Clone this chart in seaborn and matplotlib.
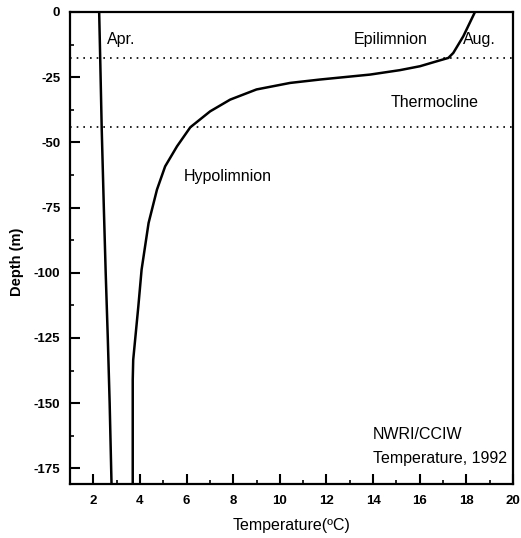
import matplotlib
matplotlib.use("Agg")
import matplotlib.pyplot as plt
import seaborn as sns
import numpy as np
import pandas as pd
from matplotlib.ticker import MultipleLocator

# Data
apr_temp = [2.25, 2.30, 2.36, 2.45, 2.53, 2.62, 2.70, 2.78]
apr_depth = [0, -20, -45, -75, -100, -125, -150, -181]

aug_temp = [18.37, 17.87, 17.44, 17.23, 16.73, 16.01, 15.15, 13.87, 11.72, 10.44,
            9.0, 7.87, 7.01, 6.16, 5.59, 5.08, 4.73, 4.37, 4.07, 3.93, 3.71, 3.69, 3.69]
aug_depth = [0, -9.3, -15.7, -17.6, -18.9, -20.8, -22.3, -24.0, -25.9, -27.2,
             -29.7, -33.6, -38.1, -44.2, -51.5, -59.2, -68.1, -80.9, -98.8, -112.9,
             -133.4, -141, -181]

layer_bounds = [-17.7, -44.1]
x_ticks = [2, 4, 6, 8, 10, 12, 14, 16, 18, 20]
y_ticks = [0, -25, -50, -75, -100, -125, -150, -175]

sns.set_theme(style="white")
plt.rcParams['font.family'] = ['Liberation Sans', 'DejaVu Sans']
plt.rcParams['axes.unicode_minus'] = False
plt.rcParams['text.color'] = 'black'
plt.rcParams['axes.labelcolor'] = 'black'
plt.rcParams['xtick.color'] = 'black'
plt.rcParams['ytick.color'] = 'black'

fig = plt.figure(figsize=(5.21, 5.38), dpi=100)
ax = fig.add_axes([0.1344, 0.1004, 0.8502, 0.8773])

df_apr = pd.DataFrame({"T": apr_temp, "D": apr_depth})
df_aug = pd.DataFrame({"T": aug_temp, "D": aug_depth})
sns.lineplot(data=df_apr, x="T", y="D", sort=False, estimator=None, color="black", lw=1.8, ax=ax)
sns.lineplot(data=df_aug, x="T", y="D", sort=False, estimator=None, color="black", lw=1.8, ax=ax)

for b in layer_bounds:
    ax.axhline(b, color="black", lw=1.2, ls=(0, (1, 3)))

ax.set_xlim(1, 20)
ax.set_ylim(-181, 0)
ax.set_xticks(x_ticks)
ax.set_yticks(y_ticks)
ax.xaxis.set_minor_locator(MultipleLocator(1))
ax.yaxis.set_minor_locator(MultipleLocator(12.5))
ax.tick_params(axis="both", which="major", direction="in", length=7, width=1.5,
               labelsize=9.5, bottom=True, left=True, top=False, right=False)
ax.tick_params(axis="x", which="major", pad=8)
ax.tick_params(axis="y", which="major", pad=7)
ax.tick_params(axis="both", which="minor", direction="in", length=3, width=1.2,
               bottom=True, left=True, top=False, right=False)
for lab in ax.get_xticklabels() + ax.get_yticklabels():
    lab.set_fontweight("bold")

for s in ax.spines.values():
    s.set_visible(True)
    s.set_color("black")
    s.set_linewidth(1.6)

ax.set_xlabel("Temperature(ºC)", fontsize=11.5, labelpad=8)
ax.set_ylabel("Depth (m)", fontsize=10.5, fontweight="bold")
ax.yaxis.set_label_coords(-0.105, 0.47)

tk = dict(fontsize=11.5, color="black")
ax.text(2.59, -10.6, "Apr.", va="center", ha="left", **tk)
ax.text(14.77, -10.6, "Epilimnion", va="center", ha="center", **tk)
ax.text(17.86, -10.6, "Aug.", va="center", ha="left", **tk)
ax.text(16.64, -34.7, "Thermocline", va="center", ha="center", **tk)
ax.text(7.76, -63.1, "Hypolimnion", va="center", ha="center", **tk)
ax.text(14.0, -162.1, "NWRI/CCIW", va="center", ha="left", **tk)
ax.text(14.0, -171.3, "Temperature, 1992", va="center", ha="left", **tk)

fig.savefig("out.png", dpi=100)
